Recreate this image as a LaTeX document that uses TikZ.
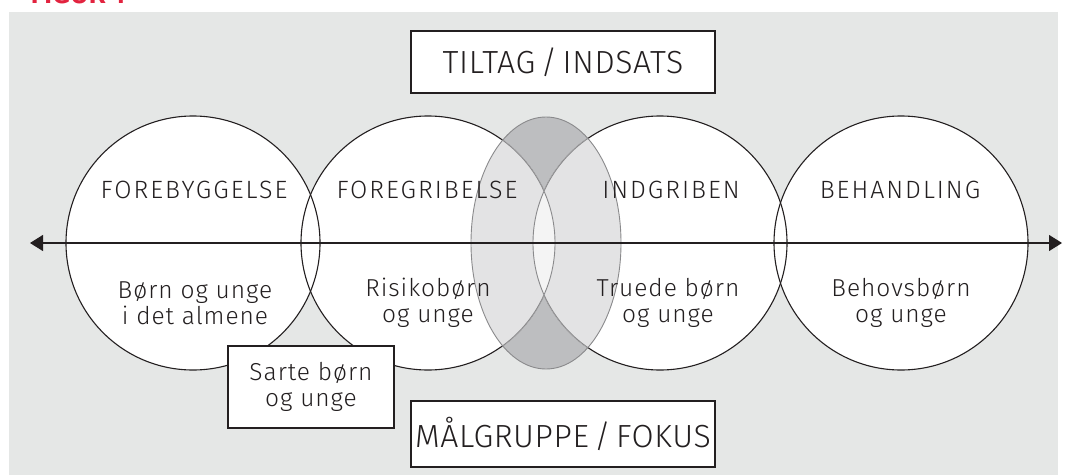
\documentclass[tikz,border=0pt]{standalone}
\usepackage{fontspec}
\setmainfont{Fira Sans}[UprightFont=* Light, BoldFont=* SemiBold]
\usetikzlibrary{positioning,arrows.meta}
\definecolor{bggray}{HTML}{E5E7E6}
\definecolor{capgray}{HTML}{BDBEC0}
\definecolor{lensgray}{HTML}{E3E3E4}
\definecolor{coregray}{HTML}{F4F4F4}
\definecolor{rimgray}{HTML}{8A8A8C}
\definecolor{ink}{HTML}{231F20}
\definecolor{figred}{HTML}{E2233F}

\begin{document}
\begin{tikzpicture}[x=1pt,y=-1pt,line width=1.1pt,
		circ/.style={circle,fill=white,minimum size=254pt,inner sep=0pt},
		head/.style={text=ink,anchor=base,font=\fontsize{25}{26}\selectfont\addfontfeatures{LetterSpace=8}},
		grp/.style={text=ink,align=center,font=\fontsize{24.5}{25.5}\selectfont\addfontfeatures{LetterSpace=4}},
		tagbox/.style={draw=ink,fill=white,minimum width=304pt,minimum height=62pt,text=ink,font=\fontsize{32}{33}\selectfont\addfontfeatures{LetterSpace=2}},
		sartebox/.style={draw=ink,fill=white,minimum width=166pt,minimum height=82pt,inner sep=0pt,align=center,text=ink,font=\fontsize{24.5}{25.5}\selectfont\addfontfeatures{LetterSpace=4}},
		>={Triangle[length=13pt,width=16pt]}]
	\useasboundingbox (0,0) rectangle (1067,474);
	\fill[bggray] (9,12) rectangle (1058,480);
	\node[anchor=base west,text=figred,font=\bfseries\fontsize{28}{30}\selectfont,inner sep=0pt] (fig) at (30,3) {FIGUR 1};

	% the lens that overlaps circles 2 and 3
	\coordinate (lens) at (546,243);
	\fill[capgray] (lens) ellipse [x radius=75,y radius=126];

	\node[circ] (forebyg) at (193,243) {};
	\node[circ] (foregrib) at (428,243) {};
	\node[circ] (indgrib) at (660,243) {};
	\node[circ] (behand) at (901,243) {};
	\foreach \c in {forebyg,foregrib,indgrib,behand}
		\draw[ink] (\c.center) circle [radius=127];

	\begin{scope}
		\clip (lens) ellipse [x radius=75,y radius=126];
		\fill[lensgray] (foregrib.center) circle [radius=127.6] (indgrib.center) circle [radius=127.6];
		\begin{scope}
			\clip (foregrib.center) circle [radius=127];
			\fill[coregray] (indgrib.center) circle [radius=127];
		\end{scope}
		\draw[rimgray,line width=0.9pt] (foregrib.center) circle [radius=127] (indgrib.center) circle [radius=127];
	\end{scope}
	\draw[rimgray,line width=0.9pt] (lens) ellipse [x radius=75,y radius=126];

	\coordinate (axl) at (30,243);
	\coordinate (axr) at (1062,243);
	\draw[<->,ink] (axl) -- (axr);

	\node[head] (h1) at (194,198) {FOREBYGGELSE};
	\node[head] (h2) at (427,198) {FOREGRIBELSE};
	\node[head] (h3) at (671,198) {INDGRIBEN};
	\node[head] (h4) at (900,198) {BEHANDLING};

	\node[grp] (g1) at (195,303) {Børn og unge\\i det almene};
	\node[grp] (g2) at (428,303) {Risikobørn\\og unge};
	\node[grp] (g3) at (668,303) {Truede børn\\og unge};
	\node[grp] (g4) at (901,303) {Behovsbørn\\og unge};

	\node[sartebox] (sarte) at (311,387) {Sarte børn\\og unge};
	\node[tagbox] (tiltag) at (563,62) {TILTAG\,/\,INDSATS};
	\node[tagbox,minimum height=66pt] (maal) at (563,434) {MÅLGRUPPE\,/\,FOKUS};
\end{tikzpicture}
\end{document}
